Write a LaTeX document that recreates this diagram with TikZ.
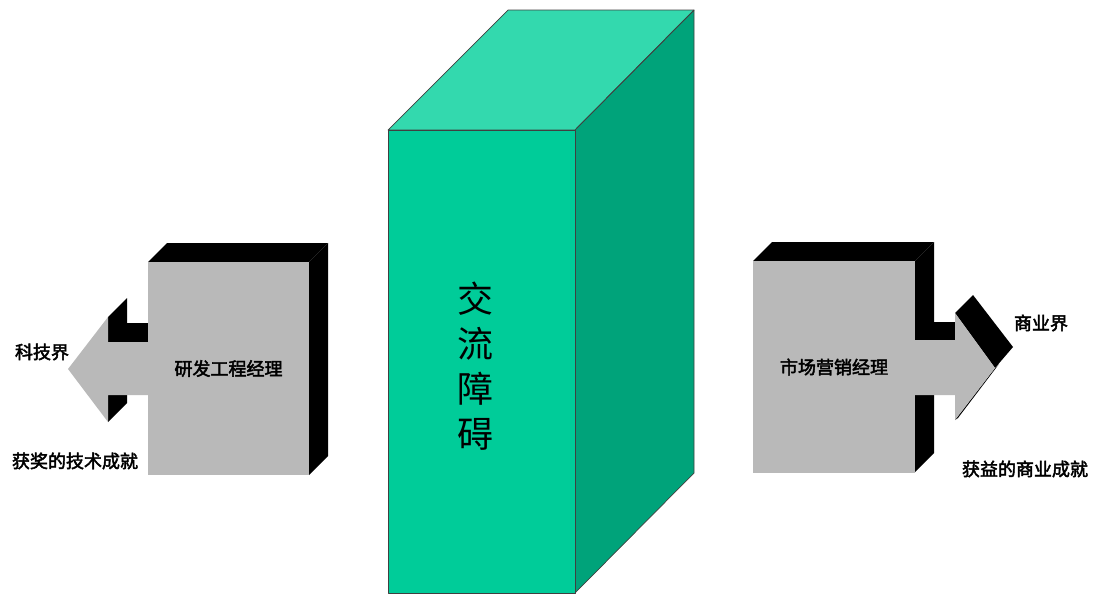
\documentclass[tikz,border=0pt]{standalone}
\usepackage{fontspec}
\newfontfamily\cjk{Noto Sans CJK SC}
\newfontfamily\cjkb[FakeBold=2.5]{Noto Sans CJK SC}
\definecolor{frontg}{HTML}{00CC99}
\definecolor{topg}{HTML}{33D9AE}
\definecolor{sideg}{HTML}{00A37A}
\definecolor{boxgray}{HTML}{B9B9B9}
\tikzset{
  greenface/.style={draw=black!75, line width=0.7pt, line join=round},
  blackface/.style={fill=black, draw=none},
  grayface/.style={fill=boxgray, draw=none},
  graybox/.style={grayface, rectangle, inner sep=0pt, font=\cjkb\fontsize{18}{20}\selectfont},
  lbl/.style={inner sep=0pt, font=\cjkb\fontsize{18}{20}\selectfont},
}
\begin{document}
\begin{tikzpicture}[x=1pt,y=-1pt]
\useasboundingbox (0,0) rectangle (1096,595);
% central barrier
\fill[topg] (388,130)--(508,10)--(694,10)--(575,130)--cycle;
\fill[sideg] (575,130)--(694,10)--(694,473)--(575,593)--cycle;
\fill[frontg] (388,130) rectangle (575,593);
\draw[greenface] (388,130)--(508,10)--(694,10)--(575,130)--cycle;
\draw[greenface] (575,130)--(694,10)--(694,473)--(575,593);
\draw[greenface] (388,130) rectangle (575,593);
\node[inner sep=0pt, align=center, font=\cjk\fontsize{36}{45}\selectfont] (barrier) at (475,366) {交\\流\\障\\碍};

% left block
\path[blackface] (148,262)--(167,243)--(328,243)--(309,262)--cycle;
\path[blackface] (309,262)--(328,243)--(328,456)--(309,475)--cycle;
\path[blackface] (108,317)--(127,298)--(127,323)--(148,323)--(148,342)--(108,342)--cycle;
\path[blackface] (108,395)--(127,395)--(127,403)--(108,422)--cycle;
\path[grayface] (148,342)--(108,342)--(108,317)--(68,369)--(108,422)--(108,395)--(148,395)--cycle;
\node[graybox, minimum width=161pt, minimum height=213pt] (rd) at (228.5,368.5) {研发工程经理};

% right block
\path[blackface] (753,261)--(772,242)--(934,242)--(915,261)--cycle;
\path[blackface] (915,261)--(934,242)--(934,322)--(955,322)--(955,340)--(915,340)--cycle;
\path[blackface] (915,395)--(934,395)--(934,453)--(915,472)--cycle;
\path[blackface] (955,313)--(973,295)--(1013,347)--(995,368)--cycle;
\path[blackface] (995,368)--(999,364)--(958,418)--(955,420)--cycle;
\path[grayface] (915,340)--(955,340)--(955,313)--(995,368)--(955,420)--(955,395)--(915,395)--cycle;
\node[graybox, minimum width=162pt, minimum height=212pt] (mk) at (834,367) {市场营销经理};

% labels
\node[lbl] (sci) at (42,352) {科技界};
\node[lbl] (tech) at (75,461) {获奖的技术成就};
\node[lbl] (biz) at (1041,323) {商业界};
\node[lbl] (gain) at (1025,469) {获益的商业成就};
\end{tikzpicture}
\end{document}
